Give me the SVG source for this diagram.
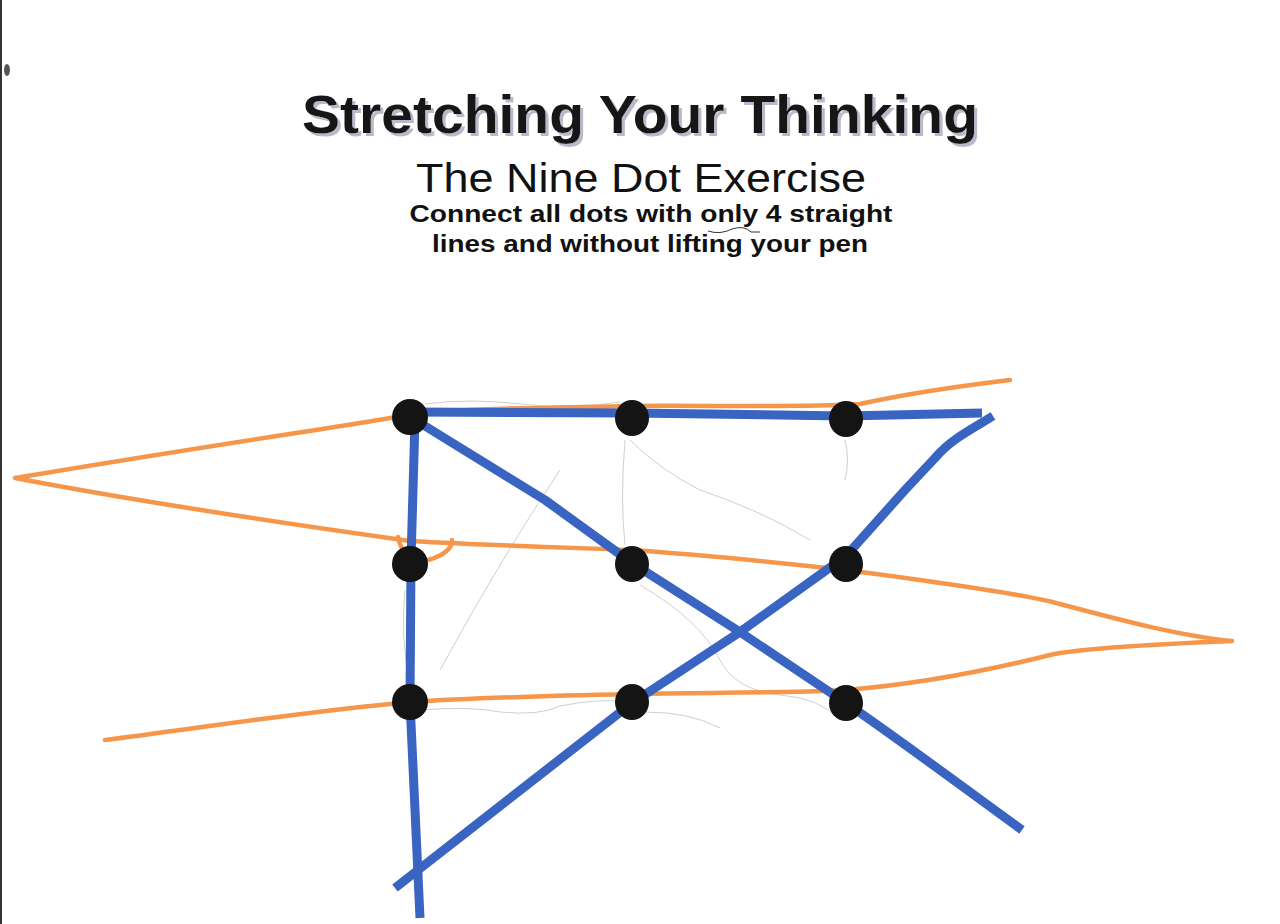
<svg xmlns="http://www.w3.org/2000/svg" width="1280" height="924" viewBox="0 0 1280 924">
  <style>
    .title { font-family: "Liberation Sans", Arial, sans-serif; font-weight: bold; font-size: 54px; text-anchor: middle; fill: #141414; }
    .sub { font-family: "Liberation Sans", Arial, sans-serif; font-size: 41px; text-anchor: middle; fill: #111; }
    .inst { font-family: "Liberation Sans", Arial, sans-serif; font-weight: bold; font-size: 23px; text-anchor: middle; fill: #111; }
    .blue { fill: none; stroke: #3a64c2; stroke-width: 9; stroke-linecap: butt; stroke-linejoin: round; }
    .orange { fill: none; stroke: #f5964a; stroke-width: 4.5; stroke-linecap: round; stroke-linejoin: round; }
    .pencil { fill: none; stroke: #888; stroke-width: 1; opacity: 0.4; }
    .dot { fill: #141414; }
  </style>
  <defs>
    <filter id="shadow" x="-5%" y="-20%" width="110%" height="150%">
      <feDropShadow dx="3" dy="3" stdDeviation="0.6" flood-color="#b9b9cc" flood-opacity="1"/>
    </filter>
  </defs>
  <rect width="1280" height="924" fill="#ffffff"/>
  <line x1="1" y1="0" x2="1" y2="924" stroke="#333" stroke-width="2"/>
  <ellipse cx="7" cy="70" rx="3" ry="6" fill="#555"/>

  <g id="title">
    <text class="title" x="640" y="133" filter="url(#shadow)" textLength="676" lengthAdjust="spacingAndGlyphs">Stretching Your Thinking</text>
    <text class="sub" x="641" y="192" textLength="450" lengthAdjust="spacingAndGlyphs">The Nine Dot Exercise</text>
    <text class="inst" x="651" y="222" textLength="483" lengthAdjust="spacingAndGlyphs">Connect all dots with only 4 straight</text>
    <text class="inst" x="650" y="252" textLength="436" lengthAdjust="spacingAndGlyphs">lines and without lifting your pen</text>
    <path d="M 708 231 Q 720 235 732 229 Q 744 225 751 232 L 760 232" fill="none" stroke="#333" stroke-width="1"/>
  </g>

  <g id="pencil-marks">
    <path class="pencil" d="M 425 404 Q 470 398 520 404 Q 570 410 620 402"/>
    <path class="pencil" d="M 630 440 Q 660 470 700 490 Q 760 510 810 540"/>
    <path class="pencil" d="M 420 710 Q 470 706 500 712 Q 540 716 560 706 Q 600 698 625 702"/>
    <path class="pencil" d="M 645 712 Q 690 712 720 728"/>
    <path class="pencil" d="M 640 585 Q 700 620 720 660 Q 735 690 780 695 Q 820 698 840 720"/>
    <path class="pencil" d="M 625 440 Q 620 500 625 545"/>
    <path class="pencil" d="M 845 440 Q 850 460 845 480"/>
    <path class="pencil" d="M 405 590 Q 400 640 410 680"/>
    <path class="pencil" d="M 440 670 Q 500 560 560 470"/>
  </g>

  <g id="connectors">
    <path id="orange-path" class="orange" d="M 1010 380 C 960 386 905 394 860 404 C 790 408 700 405 632 406 C 540 408 470 408 420 413 C 360 424 230 442 15 478 C 120 498 260 520 410 541 C 500 546 580 548 632 550 C 720 556 790 564 846 570 C 960 585 1040 598 1060 604 C 1120 620 1180 636 1232 641 C 1160 644 1080 648 1050 655 C 990 670 920 684 846 690 C 760 694 700 692 632 694 C 540 696 470 698 410 702 C 300 712 200 728 105 740"/>
    <path class="orange" d="M 452 540 Q 452 553 428 560"/>
    <path class="orange" d="M 398 537 Q 400 549 408 555"/>

    <path id="blue-top" class="blue" d="M 412 412 L 632 413 L 846 416 L 982 413"/>
    <path id="blue-left" class="blue" d="M 415 420 L 411 560 L 410 702 L 420 918"/>
    <path id="blue-diag-down" class="blue" d="M 412 418 L 545 500 L 632 563 L 740 632 L 846 703 C 900 740 960 785 1022 830"/>
    <path id="blue-diag-up" class="blue" d="M 993 416 C 970 430 950 440 935 458 L 905 490 L 846 556 L 740 632 L 632 703 L 395 888"/>
  </g>

  <g id="dot-1-1"><ellipse class="dot" cx="410" cy="417" rx="18" ry="18"/></g>
  <g id="dot-1-2"><ellipse class="dot" cx="632" cy="418" rx="17" ry="18"/></g>
  <g id="dot-1-3"><ellipse class="dot" cx="846" cy="419" rx="17" ry="18"/></g>
  <g id="dot-2-1"><ellipse class="dot" cx="410" cy="564" rx="18" ry="18"/></g>
  <g id="dot-2-2"><ellipse class="dot" cx="632" cy="564" rx="17" ry="18"/></g>
  <g id="dot-2-3"><ellipse class="dot" cx="846" cy="564" rx="17" ry="18"/></g>
  <g id="dot-3-1"><ellipse class="dot" cx="410" cy="702" rx="18" ry="18"/></g>
  <g id="dot-3-2"><ellipse class="dot" cx="632" cy="702" rx="17" ry="18"/></g>
  <g id="dot-3-3"><ellipse class="dot" cx="846" cy="703" rx="17" ry="18"/></g>
</svg>
